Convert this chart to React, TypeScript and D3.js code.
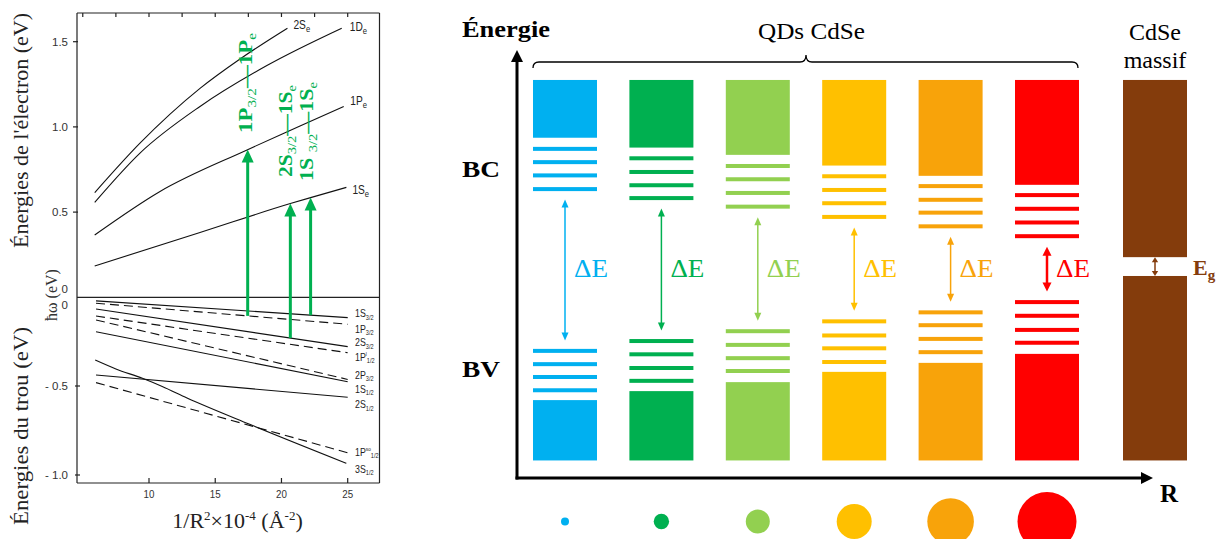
import React from 'react';
import * as d3 from 'd3';

type Pt = [number, number];

// ================= LEFT PANEL DATA (energies vs 1/R^2) =================
const xTickValues = [10, 15, 20, 25];
const xTickLabels = ['10', '15', '20', '25'];
const xMinorTickValues = [5, 7.5, 10, 12.5, 15, 17.5, 20, 22.5, 25];
const electronTickValues = [1.5, 1.0, 0.5];
const electronTickLabels = ['1.5', '1.0', '0.5'];
const holeTickValues = [-0.5, -1.0];
const holeTickLabels = ['- 0.5', '- 1.0'];

// electron levels (eV)
const elec2S: Pt[] = [[5.9, 0.614], [9.3, 0.903], [13.85, 1.226], [16.9, 1.40], [20.45, 1.579]];
const elec1D: Pt[] = [[5.9, 0.557], [9.3, 0.845], [13.85, 1.12], [18.9, 1.36], [24.55, 1.579]];
const elec1P: Pt[] = [[5.9, 0.366], [10.8, 0.62], [17.4, 0.865], [21.4, 1.005], [24.7, 1.12]];
const elec1S: Pt[] = [[5.9, 0.184], [13.85, 0.38], [20.67, 0.55], [22.2, 0.585], [24.9, 0.645]];
const electronNames = ['2S', '1D', '1P', '1S'];

// hole levels (eV)
const hole1S32: Pt[] = [[6, -0.022], [25, -0.116]];
const hole1P32: Pt[] = [[6, -0.035], [25, -0.153]];
const hole2S32: Pt[] = [[6, -0.067], [25, -0.279]];
const hole1P12: Pt[] = [[6, -0.107], [25, -0.313]];
const hole2P32: Pt[] = [[6, -0.129], [25, -0.463]];
const hole1S12: Pt[] = [[6, -0.195], [25, -0.476]];
const hole2S12: Pt[] = [[6, -0.438], [25, -0.563]];
const hole1Pso: Pt[] = [[6, -0.481], [25, -0.875]];
const hole3S12: Pt[] = [[5.94, -0.354], [7.5, -0.404], [9.5, -0.457], [11, -0.503], [12.87, -0.567], [17.6, -0.715], [24.9, -0.934]];
const holeNames = ['1S', '1P', '2S', '1P', '2P', '1S', '2S', '1P', '3S'];
const holeSups = ['', '', '', 'l', '', '', '', 'so', ''];
const holeSubs = ['3/2', '3/2', '3/2', '1/2', '3/2', '1/2', '1/2', '1/2', '1/2'];
const holeDashed = [false, true, false, true, true, false, false, true, false];

// optical transitions
const transitionX = [17.45, 20.67, 22.2];
const transitionA = ['1P', '2S', '1S '];
const transitionB = ['1P', '1S', '1S'];

// ================= RIGHT PANEL DATA (QD energy diagram) =================
const qdNames = ['QD1', 'QD2', 'QD3', 'QD4', 'QD5', 'QD6'];
const qdColors = ['#00B0F0', '#00B050', '#92D050', '#FFC000', '#F8A30A', '#FF0000'];
const qdRadius = [0.8, 1.54, 2.4, 3.5, 4.66, 5.9];
const bandTop = 9.3;
const bandBottom = 0.41;
const cbEdge = [7.95, 7.72, 7.55, 7.30, 7.06, 6.85];
const cbLevels = [
  [7.69, 7.38, 7.07, 6.75],
  [7.47, 7.15, 6.84, 6.54],
  [7.29, 6.98, 6.66, 6.34],
  [7.05, 6.73, 6.42, 6.10],
  [6.82, 6.50, 6.20, 5.88],
  [6.61, 6.29, 5.97, 5.65],
];
const vbLevels = [
  [2.97, 2.66, 2.36, 2.05],
  [3.20, 2.89, 2.57, 2.27],
  [3.43, 3.11, 2.80, 2.50],
  [3.66, 3.33, 3.03, 2.71],
  [3.87, 3.57, 3.25, 2.94],
  [4.11, 3.79, 3.46, 3.16],
];
const vbEdge = [1.82, 2.03, 2.24, 2.48, 2.69, 2.90];
const bulkCB = 5.16;
const bulkVB = 4.72;
const bulkColor = '#843C0C';

const GREEN = '#00B050';
const SERIF = '"Liberation Serif", "Times New Roman", serif';
const SANS = '"Liberation Sans", Arial, sans-serif';

function tri(x: number, yTip: number, dir: number, len: number, hw: number) {
  return `${x},${yTip} ${x - hw},${yTip + dir * len} ${x + hw},${yTip + dir * len}`;
}

export default function App() {
  // ---------- left scales ----------
  const xL = d3.scaleLinear().domain([10, 25]).range([149, 347.7]);
  const yUp = d3.scaleLinear().domain([0, 1.5]).range([297.3, 41.7]);
  const yLow = d3.scaleLinear().domain([0, -1]).range([297, 475]);
  const lineUp = d3.line<Pt>().x(d => xL(d[0])).y(d => yUp(d[1])).curve(d3.curveMonotoneX);
  const lineLow = d3.line<Pt>().x(d => xL(d[0])).y(d => yLow(d[1])).curve(d3.curveMonotoneX);
  const interp = (pts: Pt[], v: number) =>
    d3.scaleLinear().domain(pts.map(p => p[0])).range(pts.map(p => p[1]))(v);

  const electronCurves = [elec2S, elec1D, elec1P, elec1S];
  const elecLabelOff: Pt[] = [[6, -3.3], [8, -1.3], [6.5, -6], [6, 2.6]];
  const holeCurves = [hole1S32, hole1P32, hole2S32, hole1P12, hole2P32, hole1S12, hole2S12, hole1Pso, hole3S12];
  const holeLabelDy = [-4.6, 4.5, -4.5, 3.8, -4.5, 7, 6.8, -1, 5.5];
  const transFrom = [hole1P32, hole2S32, hole1S32];
  const transTo = [elec1P, elec1S, elec1S];
  const transLabelX = [252, 292, 312.5];
  const transLabelY = [133, 177, 181];
  const transLabelLen = [100, 92, 99];

  const frameL = 77, frameR = 379.5, frameT = 13, frameB = 483;

  // ---------- right scales ----------
  const yE = d3.scaleLinear().domain([0, 10]).range([478, 50]);
  const xQD = d3.scalePoint<string>().domain(qdNames).range([565, 1047]);
  const rScale = d3.scaleLinear().domain([0, 6]).range([0, 30]);
  const colW = 64;
  const lineH = 4;
  const gap = 8.5;
  const bulkX = 1155;

  return (
    <svg width={1225} height={539} viewBox="0 0 1225 539"
      style={{ position: 'absolute', left: 0, top: 0, background: '#fff' }}>
      <rect x={0} y={0} width={1225} height={539} fill="#fff" />

      {/* ================= LEFT PANEL ================= */}
      <g stroke="#222" strokeWidth={1.2} fill="none">
        <line x1={frameL} y1={frameT} x2={frameL} y2={frameB} />
        <line x1={frameR} y1={frameT} x2={frameR} y2={frameB} />
        <line x1={frameL} y1={frameT} x2={frameR} y2={frameT} />
        <line x1={frameL} y1={frameB} x2={frameR} y2={frameB} />
        <line x1={frameL} y1={yUp(0)} x2={frameR} y2={yUp(0)} />
        {xMinorTickValues.map(v => (
          <line key={'tt' + v} x1={xL(v)} x2={xL(v)} y1={frameT} y2={frameT + 4} />
        ))}
        {xTickValues.map(v => (
          <line key={'bt' + v} x1={xL(v)} x2={xL(v)} y1={frameB} y2={frameB - 5} />
        ))}
        {electronTickValues.map(v => (
          <line key={'et' + v} x1={frameL - 4} x2={frameL + 1} y1={yUp(v)} y2={yUp(v)} />
        ))}
        {holeTickValues.map(v => (
          <line key={'ht' + v} x1={frameL - 2} x2={frameL + 3} y1={yLow(v)} y2={yLow(v)} />
        ))}
      </g>

      {/* tick labels */}
      <g fontFamily={SANS} fontSize={11.5} fill="#333">
        {electronTickValues.map((v, i) => (
          <text key={'el' + v} x={68} y={yUp(v) + 4} textAnchor="end">{electronTickLabels[i]}</text>
        ))}
        <text x={68} y={yUp(0) - 4} textAnchor="end">0</text>
        <text x={68} y={yLow(0) + 12} textAnchor="end">0</text>
        {holeTickValues.map((v, i) => (
          <text key={'hl' + v} x={68} y={yLow(v) + 4} textAnchor="end">{holeTickLabels[i]}</text>
        ))}
        {xTickValues.map((v, i) => (
          <text key={'xl' + v} transform={`translate(${xL(v)},497.5) scale(0.85,1)`} textAnchor="middle">{xTickLabels[i]}</text>
        ))}
      </g>

      {/* electron curves */}
      <g fill="none" stroke="#111" strokeWidth={1.1}>
        {electronCurves.map((c, i) => <path key={'ec' + i} d={lineUp(c) || ''} />)}
      </g>
      {electronCurves.map((c, i) => {
        const end = c[c.length - 1];
        const x = xL(end[0]) + elecLabelOff[i][0];
        const y = yUp(end[1]) + elecLabelOff[i][1] + 4.3;
        return (
          <text key={'en' + i} transform={`translate(${x},${y}) scale(0.85,1)`}
            fontFamily={SANS} fontSize={12} fill="#222">
            {electronNames[i]}<tspan fontSize={9} dy={3}>e</tspan>
          </text>
        );
      })}

      {/* hole curves */}
      <g fill="none" stroke="#111" strokeWidth={1.1}>
        {holeCurves.map((c, i) => (
          <path key={'hc' + i} d={lineLow(c) || ''} strokeDasharray={holeDashed[i] ? '9,5' : undefined} />
        ))}
      </g>
      {holeCurves.map((c, i) => {
        const end = c[c.length - 1];
        const x = 355;
        const y = yLow(end[1]) + holeLabelDy[i] + 4;
        return (
          <text key={'hn' + i} transform={`translate(${x},${y}) scale(0.8,1)`}
            fontFamily={SANS} fontSize={11} fill="#222">
            {holeNames[i]}
            {holeSups[i] ? <tspan fontSize={6} dy={-5}>{holeSups[i]}</tspan> : null}
            <tspan fontSize={7} dy={holeSups[i] ? 7 : 2.5}>{holeSubs[i]}</tspan>
          </text>
        );
      })}

      {/* transitions */}
      {transitionX.map((v, i) => {
        const x = xL(v);
        const yb = yLow(interp(transFrom[i], v));
        const yt = yUp(interp(transTo[i], v));
        return (
          <g key={'tr' + i}>
            <line x1={x} x2={x} y1={yb} y2={yt + 11} stroke={GREEN} strokeWidth={3} />
            <polygon points={tri(x, yt, 1, 13, 6)} fill={GREEN} />
          </g>
        );
      })}
      {transitionX.map((v, i) => (
        <text key={'tl' + i} transform={`translate(${transLabelX[i]},${transLabelY[i]}) rotate(-90)`}
          fontFamily={SERIF} fontWeight="bold" fontSize={18} fill={GREEN}
          textLength={transLabelLen[i]} lengthAdjust="spacingAndGlyphs">
          {transitionA[i]}<tspan fontSize={12} fontWeight="normal" dy={4}>3/2</tspan>
          <tspan dy={-4}>{'\u2014' + transitionB[i]}</tspan>
          <tspan fontSize={12} fontWeight="normal" dy={4}>e</tspan>
        </text>
      ))}

      {/* left titles */}
      <text transform="translate(28,130.5) rotate(-90)" fontFamily={SERIF} fontSize={22} fill="#222"
        textAnchor="middle" textLength={235} lengthAdjust="spacingAndGlyphs">
        Énergies de l'électron (eV)
      </text>
      <text transform="translate(28,426) rotate(-90)" fontFamily={SERIF} fontSize={22} fill="#222"
        textAnchor="middle" textLength={198} lengthAdjust="spacingAndGlyphs">
        Énergies du trou (eV)
      </text>
      <text transform="translate(57,295) rotate(-90)" fontFamily={SERIF} fontSize={16} fill="#333"
        textAnchor="middle">
        ħω (eV)
      </text>
      <text x={237.5} y={528} fontFamily={SERIF} fontSize={22} fill="#222" textAnchor="middle">
        1/R<tspan fontSize={13} dy={-8}>2</tspan><tspan dy={8}>×10</tspan><tspan fontSize={13} dy={-8}>-4</tspan><tspan dy={8}> (Å</tspan><tspan fontSize={13} dy={-8}>-2</tspan><tspan dy={8}>)</tspan>
      </text>

      {/* ================= RIGHT PANEL ================= */}
      {qdNames.map((q, i) => {
        const cx = xQD(q) as number;
        const x0 = cx - colW / 2;
        const col = qdColors[i];
        const lowCB = d3.min(cbLevels[i]) as number;
        const highVB = d3.max(vbLevels[i]) as number;
        const yTop = yE(lowCB) + lineH / 2 + gap;
        const yBot = yE(highVB) - lineH / 2 - gap;
        const sw = i === 5 ? 2.5 : 1.5;
        const hl = i === 5 ? 9 : 8;
        const hw = i === 5 ? 4.5 : 3.5;
        return (
          <g key={q}>
            <rect x={x0} y={yE(bandTop)} width={colW} height={yE(cbEdge[i]) - yE(bandTop)} fill={col} />
            {cbLevels[i].map((e, j) => (
              <rect key={'c' + j} x={x0} y={yE(e) - lineH / 2} width={colW} height={lineH} fill={col} />
            ))}
            {vbLevels[i].map((e, j) => (
              <rect key={'v' + j} x={x0} y={yE(e) - lineH / 2} width={colW} height={lineH} fill={col} />
            ))}
            <rect x={x0} y={yE(vbEdge[i])} width={colW} height={yE(bandBottom) - yE(vbEdge[i])} fill={col} />
            <line x1={cx} x2={cx} y1={yTop + hl - 1} y2={yBot - hl + 1} stroke={col} strokeWidth={sw} />
            <polygon points={tri(cx, yTop, 1, hl, hw)} fill={col} />
            <polygon points={tri(cx, yBot, -1, hl, hw)} fill={col} />
            <text x={cx + 9} y={277} fontFamily={SERIF} fontSize={25} fill={col}
              textLength={34} lengthAdjust="spacingAndGlyphs">ΔE</text>
            <circle cx={cx} cy={521.5} r={rScale(qdRadius[i])} fill={col} />
          </g>
        );
      })}

      {/* bulk CdSe */}
      <rect x={bulkX - colW / 2} y={yE(bandTop)} width={colW} height={yE(bulkCB) - yE(bandTop)} fill={bulkColor} />
      <rect x={bulkX - colW / 2} y={yE(bulkVB)} width={colW} height={yE(bandBottom) - yE(bulkVB)} fill={bulkColor} />
      <line x1={bulkX} x2={bulkX} y1={yE(bulkCB) + 4} y2={yE(bulkVB) - 4} stroke={bulkColor} strokeWidth={1.5} />
      <polygon points={tri(bulkX, yE(bulkCB), 1, 5, 3.2)} fill={bulkColor} />
      <polygon points={tri(bulkX, yE(bulkVB), -1, 5, 3.2)} fill={bulkColor} />
      <text x={1193} y={275} fontFamily={SERIF} fontWeight="bold" fontSize={22} fill={bulkColor}>
        E<tspan fontSize={15} dy={5}>g</tspan>
      </text>

      {/* axes */}
      <line x1={517} x2={517} y1={479.5} y2={60} stroke="#000" strokeWidth={3} />
      <polygon points={tri(517, 50, 1, 12, 6)} fill="#000" />
      <line x1={515.5} x2={1143} y1={478} y2={478} stroke="#000" strokeWidth={3} />
      <polygon points={`1153,478 1141,472 1141,484`} fill="#000" />

      {/* brace */}
      <path d="M533,68 Q533,62 539,62 L800,62 Q806,62 806,55 Q806,62 812,62 L1072,62 Q1078,62 1078,68"
        fill="none" stroke="#000" strokeWidth={1.3} />

      {/* texts */}
      <g fontFamily={SERIF} fill="#000">
        <text x={462} y={37} fontWeight="bold" fontSize={24} textLength={88} lengthAdjust="spacingAndGlyphs">Énergie</text>
        <text x={462} y={177} fontWeight="bold" fontSize={24} textLength={38} lengthAdjust="spacingAndGlyphs">BC</text>
        <text x={462} y={377} fontWeight="bold" fontSize={24} textLength={38} lengthAdjust="spacingAndGlyphs">BV</text>
        <text x={1160} y={502} fontWeight="bold" fontSize={25}>R</text>
        <text x={811.5} y={39} fontSize={24} textAnchor="middle" textLength={107} lengthAdjust="spacingAndGlyphs">QDs CdSe</text>
        <text x={1155} y={39.5} fontSize={24} textAnchor="middle">CdSe</text>
        <text x={1155} y={68} fontSize={24} textAnchor="middle">massif</text>
      </g>
    </svg>
  );
}
